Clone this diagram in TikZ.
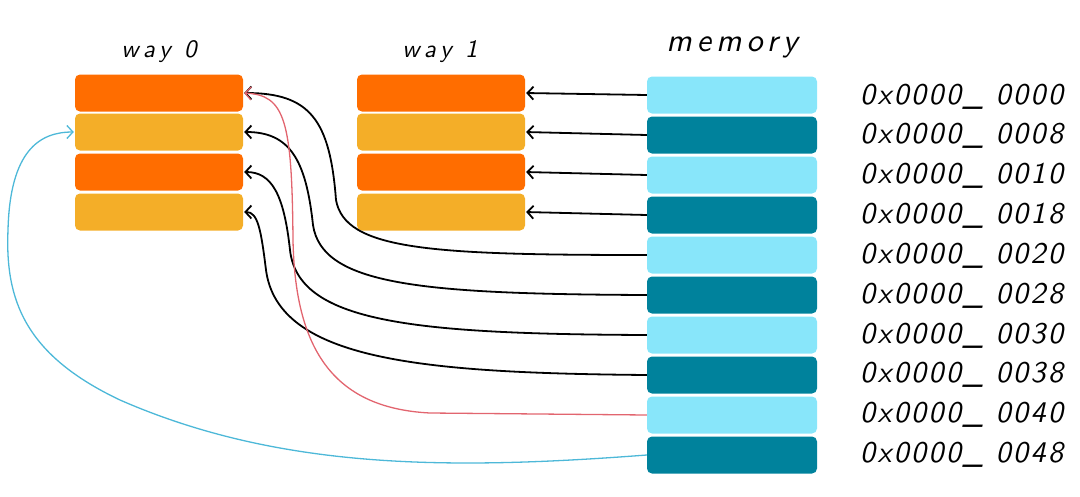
\documentclass[tikz,border=0pt]{standalone}
\usepackage{fontspec}
\newfontfamily\hand{lmsans10-regular.otf}[ItalicFont=lmsans10-oblique.otf]
\usetikzlibrary{arrows.meta}
\definecolor{orng}{HTML}{FF6D00}
\definecolor{yelw}{HTML}{F4AE28}
\definecolor{lblue}{HTML}{88E6FA}
\definecolor{dteal}{HTML}{00829C}
\definecolor{bcurve}{HTML}{4DB8D8}
\definecolor{rcurve}{HTML}{E2656F}
\tikzset{
  blk/.style={rounded corners=5pt, minimum width=168pt, minimum height=37pt, inner sep=0pt, draw=none},
  mblk/.style={rounded corners=5pt, minimum width=170pt, minimum height=37pt, inner sep=0pt, draw=none},
  arr/.style={-{Straight Barb[length=6pt,width=13pt]}, line width=1.8pt, black, shorten >=1pt},
  carr/.style={-{Straight Barb[length=6pt,width=13pt]}, line width=1.3pt, shorten >=1pt},
  lbl/.style={font=\hand\itshape\fontsize{25}{28}\selectfont\addfontfeatures{LetterSpace=20}},
  addr/.style={font=\hand\itshape\fontsize{30}{32}\selectfont\addfontfeatures{LetterSpace=8}, anchor=west, inner sep=0pt}
}
\begin{document}
\begin{tikzpicture}[x=1pt,y=-1pt]
\useasboundingbox (0,0) rectangle (1080,496);
% labels
\node[lbl] (lw0) at (159,52) {way 0};
\node[lbl] (lw1) at (440,52) {way 1};
\node[font=\hand\itshape\fontsize{32}{36}\selectfont\addfontfeatures{LetterSpace=16}] (lmem) at (732,47) {memory};
% way 0
\node[blk, fill=orng] (a0) at (159,93) {};
\node[blk, fill=yelw] (a1) at (159,132) {};
\node[blk, fill=orng] (a2) at (159,172) {};
\node[blk, fill=yelw] (a3) at (159,212) {};
% way 1
\node[blk, fill=orng] (b0) at (441,93) {};
\node[blk, fill=yelw] (b1) at (441,132) {};
\node[blk, fill=orng] (b2) at (441,172) {};
\node[blk, fill=yelw] (b3) at (441,212) {};
% memory
\foreach \i in {0,...,9}{
  \pgfmathtruncatemacro{\odd}{mod(\i,2)}
  \ifnum\odd=0
    \node[mblk, fill=lblue] (m\i) at (732,{95+40*\i}) {};
  \else
    \node[mblk, fill=dteal] (m\i) at (732,{95+40*\i}) {};
  \fi
}
% addresses
\node[addr] (ad0) at (860,97) {0x0000\_ 0000};
\node[addr] (ad1) at (860,136) {0x0000\_ 0008};
\node[addr] (ad2) at (860,176) {0x0000\_ 0010};
\node[addr] (ad3) at (860,216) {0x0000\_ 0018};
\node[addr] (ad4) at (860,256) {0x0000\_ 0020};
\node[addr] (ad5) at (860,296) {0x0000\_ 0028};
\node[addr] (ad6) at (860,336) {0x0000\_ 0030};
\node[addr] (ad7) at (860,375) {0x0000\_ 0038};
\node[addr] (ad8) at (860,415) {0x0000\_ 0040};
\node[addr] (ad9) at (860,455) {0x0000\_ 0048};
% straight arrows to way 1
\draw[arr] (m0.west) -- (b0.east);
\draw[arr] (m1.west) -- (b1.east);
\draw[arr] (m2.west) -- (b2.east);
\draw[arr] (m3.west) -- (b3.east);
% curved arrows to way 0
\draw[arr] (m4.west) .. controls (430,255) and (345,250) .. (336,200) .. controls (330,120) and (310,93) .. (a0.east);
\draw[arr] (m5.west) .. controls (420,294) and (322,285) .. (313,225) .. controls (306,160) and (290,132) .. (a1.east);
\draw[arr] (m6.west) .. controls (410,334) and (298,322) .. (290,250) .. controls (284,195) and (272,172) .. (a2.east);
\draw[arr] (m7.west) .. controls (420,373) and (278,360) .. (266,270) .. controls (261,230) and (258,212) .. (a3.east);
% red
\draw[carr, rcurve] (m8.west) -- (430,413) .. controls (330,408) and (295,345) .. (293,240) .. controls (292,120) and (285,95) .. (a0.east);
% blue
\draw[carr, bcurve] (m9.west) .. controls (450,470) and (280,470) .. (120,400) .. controls (25,355) and (5,300) .. (8,230) .. controls (10,150) and (40,132) .. (a1.west);
\end{tikzpicture}
\end{document}
